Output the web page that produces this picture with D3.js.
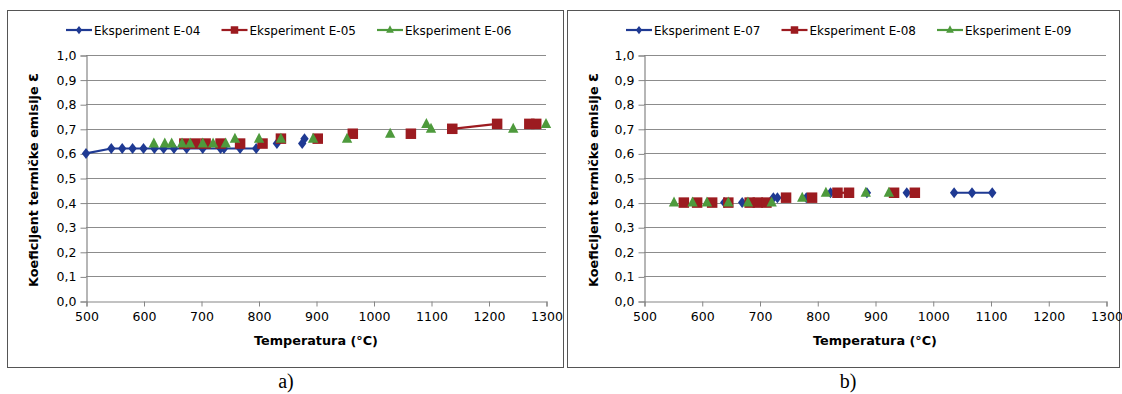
<!DOCTYPE html>
<html>
<head>
<meta charset="utf-8">
<script src="https://cdn.jsdelivr.net/npm/d3@7"></script>
<style>
  html, body { margin: 0; padding: 0; background: #fff; }
  svg { display: block; }
</style>
</head>
<body>
<svg id="chart" width="1122" height="394"></svg>
<script>
// Axis ticks
const tempTicks = [500, 600, 700, 800, 900, 1000, 1100, 1200, 1300];
const emisTicks = [0, 0.1, 0.2, 0.3, 0.4, 0.5, 0.6, 0.7, 0.8, 0.9, 1.0];

// Panel a)
const e04Temp = [500, 544, 563, 581, 600, 619, 635, 653, 675, 703, 734, 740, 768, 796, 832, 876, 880];
const e04Emis = [0.60, 0.62, 0.62, 0.62, 0.62, 0.62, 0.62, 0.62, 0.62, 0.62, 0.62, 0.62, 0.62, 0.62, 0.64, 0.64, 0.66];
const e04Runs = [[0, 13]];

const e05Temp = [671, 690, 708, 734, 768, 807, 839, 903, 964, 1065, 1137, 1215, 1271, 1283];
const e05Emis = [0.64, 0.64, 0.64, 0.64, 0.64, 0.64, 0.66, 0.66, 0.68, 0.68, 0.70, 0.72, 0.72, 0.72];
const e05Runs = [[10, 11]];

const e06Temp = [618, 637, 649, 667, 681, 703, 721, 743, 759, 801, 839, 895, 954, 1029, 1092, 1100, 1243, 1300];
const e06Emis = [0.64, 0.64, 0.64, 0.64, 0.64, 0.64, 0.64, 0.64, 0.66, 0.66, 0.66, 0.66, 0.66, 0.68, 0.72, 0.70, 0.70, 0.72];
const e06Runs = [];

// Panel b)
const e07Temp = [639, 670, 724, 731, 781, 823, 886, 955, 1037, 1068, 1103];
const e07Emis = [0.40, 0.40, 0.42, 0.42, 0.42, 0.44, 0.44, 0.44, 0.44, 0.44, 0.44];
const e07Runs = [[2, 3], [8, 10]];

const e08Temp = [569, 592, 618, 646, 683, 697, 712, 746, 791, 835, 855, 933, 969];
const e08Emis = [0.40, 0.40, 0.40, 0.40, 0.40, 0.40, 0.40, 0.42, 0.42, 0.44, 0.44, 0.44, 0.44];
const e08Runs = [[9, 10]];

const e09Temp = [552, 584, 609, 646, 680, 721, 774, 815, 884, 924];
const e09Emis = [0.40, 0.40, 0.40, 0.40, 0.40, 0.40, 0.42, 0.44, 0.44, 0.44];
const e09Runs = [];

const seriesNames = {
  a: ["Eksperiment E-04", "Eksperiment E-05", "Eksperiment E-06"],
  b: ["Eksperiment E-07", "Eksperiment E-08", "Eksperiment E-09"]
};

const colors = ["#1f3a93", "#9c1b20", "#4e9a3c"];
const shapes = ["diamond", "square", "triangle"];

const FONT = "'DejaVu Sans', Verdana, sans-serif";
const svg = d3.select("#chart");

function markerPath(shape, s) {
  if (shape === "diamond") {
    const w = s * 0.42, h = s * 0.55;
    return `M0,${-h}L${w},0L0,${h}L${-w},0Z`;
  }
  if (shape === "square") {
    const h = s / 2;
    return `M${-h},${-h}H${h}V${h}H${-h}Z`;
  }
  const w = s * 0.52, h = s * 0.5;
  return `M0,${-h - 1}L${w},${h - 1}L${-w},${h - 1}Z`;
}

function drawPanel(cfg) {
  const g = svg.append("g");
  const { frame, plot } = cfg;

  // Outer frame
  g.append("rect")
    .attr("x", frame.x + 0.5).attr("y", frame.y + 0.5)
    .attr("width", frame.w).attr("height", frame.h)
    .attr("fill", "#fff").attr("stroke", "#555").attr("stroke-width", 1);

  const x = d3.scaleLinear().domain([500, 1300]).range([plot.left, plot.right]);
  const y = d3.scaleLinear().domain([0, 1]).range([plot.bottom, plot.top]);

  // Horizontal gridlines
  g.append("g").selectAll("line").data(emisTicks.filter(d => d > 0)).join("line")
    .attr("x1", plot.left).attr("x2", plot.right)
    .attr("y1", d => Math.round(y(d)) + 0.5).attr("y2", d => Math.round(y(d)) + 0.5)
    .attr("stroke", "#8c8c8c").attr("stroke-width", 1.2);

  // Y axis
  const yAxis = g.append("g")
    .attr("transform", `translate(${Math.round(plot.left) + 0.5},0.5)`)
    .call(d3.axisLeft(y).tickValues(emisTicks).tickSize(6).tickPadding(4)
      .tickFormat(d => d3.format(".1f")(d).replace(".", ",")));
  yAxis.select(".domain").attr("stroke", "#868686").attr("stroke-width", 1.2);
  yAxis.selectAll(".tick line").attr("stroke", "#868686");
  yAxis.selectAll(".tick text").attr("fill", "#000")
    .style("font-family", FONT).style("font-size", "12.5px");

  // X axis
  const xAxis = g.append("g")
    .attr("transform", `translate(0.5,${Math.round(plot.bottom) + 0.5})`)
    .call(d3.axisBottom(x).tickValues(tempTicks).tickSize(5).tickPadding(6)
      .tickFormat(d3.format("d")));
  xAxis.select(".domain").attr("stroke", "#868686").attr("stroke-width", 1.2);
  xAxis.selectAll(".tick line").attr("stroke", "#868686");
  xAxis.selectAll(".tick text").attr("fill", "#000")
    .style("font-family", FONT).style("font-size", "12.5px");

  // Axis titles
  g.append("text")
    .attr("x", (plot.left + plot.right) / 2).attr("y", plot.bottom + 44)
    .attr("text-anchor", "middle")
    .style("font-family", FONT).style("font-size", "12.8px").style("font-weight", "bold")
    .text("Temperatura (°C)");

  const yTitle = g.append("text")
    .attr("transform", `translate(${frame.x + 31},${(plot.top + plot.bottom) / 2 + 2}) rotate(-90)`)
    .attr("text-anchor", "middle")
    .style("font-family", FONT).style("font-size", "12.8px").style("font-weight", "bold");
  yTitle.append("tspan").text("Koeficijent termičke emisije ");
  yTitle.append("tspan").style("font-size", "16px").text("ε");

  // Series
  const line = d3.line().x(d => x(d.t)).y(d => y(d.e));
  cfg.series.forEach((s, i) => {
    const pts = s.temp.map((t, k) => ({ t, e: s.emis[k] }));
    s.runs.forEach(([a, b]) => {
      g.append("path")
        .attr("d", line(pts.slice(a, b + 1)))
        .attr("fill", "none").attr("stroke", colors[i]).attr("stroke-width", 2.2);
    });
    g.append("g").selectAll("path").data(pts).join("path")
      .attr("transform", d => `translate(${x(d.t)},${y(d.e)})`)
      .attr("d", markerPath(shapes[i], i === 1 ? 10.5 : 10))
      .attr("fill", colors[i]);
  });

  // Legend
  const legend = g.append("g");
  cfg.names.forEach((name, i) => {
    const lx = frame.x + 59 + i * 155.5;
    const ly = 30;
    legend.append("line")
      .attr("x1", lx).attr("x2", lx + 26).attr("y1", ly).attr("y2", ly)
      .attr("stroke", colors[i]).attr("stroke-width", 2.2);
    legend.append("path")
      .attr("transform", `translate(${lx + 13},${ly})`)
      .attr("d", markerPath(shapes[i], 7.5))
      .attr("fill", colors[i]);
    legend.append("text")
      .attr("x", lx + 28).attr("y", ly + 4.5)
      .style("font-family", FONT).style("font-size", "12px")
      .text(name);
  });

  // Panel caption
  svg.append("text")
    .attr("x", cfg.captionX).attr("y", 388)
    .attr("text-anchor", "middle")
    .style("font-family", "'Liberation Serif', 'Times New Roman', serif").style("font-size", "20px")
    .text(cfg.caption);
}

drawPanel({
  frame: { x: 7, y: 10, w: 556, h: 357 },
  plot: { left: 86, right: 546, top: 55, bottom: 301 },
  names: seriesNames.a,
  series: [
    { temp: e04Temp, emis: e04Emis, runs: e04Runs },
    { temp: e05Temp, emis: e05Emis, runs: e05Runs },
    { temp: e06Temp, emis: e06Emis, runs: e06Runs }
  ],
  caption: "a)", captionX: 286
});

drawPanel({
  frame: { x: 567, y: 10, w: 552, h: 357 },
  plot: { left: 644, right: 1106, top: 55, bottom: 301 },
  names: seriesNames.b,
  series: [
    { temp: e07Temp, emis: e07Emis, runs: e07Runs },
    { temp: e08Temp, emis: e08Emis, runs: e08Runs },
    { temp: e09Temp, emis: e09Emis, runs: e09Runs }
  ],
  caption: "b)", captionX: 848
});
</script>
</body>
</html>
